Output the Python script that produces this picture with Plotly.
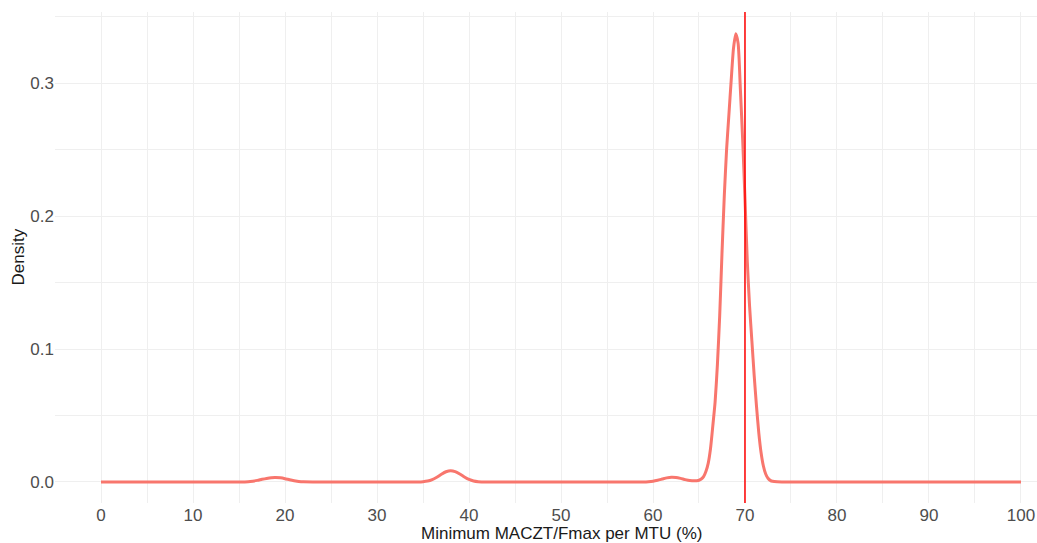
import plotly.graph_objects as go

# Density curve points
x_vals = [0, 10, 15, 16, 16.5, 17, 17.5, 18, 18.5, 19, 19.5, 20, 20.5, 21, 21.5, 22, 23,
          30, 34.5, 35, 35.5, 36, 36.5, 37, 37.5, 38, 38.5, 39, 39.5, 40, 40.5, 41, 42,
          50, 59, 59.5, 60, 60.5, 61, 61.5, 62, 62.5, 63, 63.5, 64, 64.5,
          64.75, 65, 65.25, 65.5, 65.75, 66, 66.25, 66.5, 66.75, 67, 67.25, 67.5, 67.75,
          68, 68.25, 68.5, 68.75, 69, 69.25, 69.5, 69.75, 70, 70.25, 70.5, 70.75,
          71, 71.25, 71.5, 71.75, 72, 72.25, 72.5, 72.75, 73, 73.5, 74, 80, 90, 100]
y_vals = [0, 0, 0, 0.0002, 0.0006, 0.0012, 0.0020, 0.0027, 0.0032, 0.0033, 0.0031, 0.0025, 0.0017, 0.0010, 0.0004, 0.0001, 0,
          0, 0, 0.0002, 0.0007, 0.0018, 0.0036, 0.0058, 0.0077, 0.0085, 0.0078, 0.0060, 0.0038, 0.0019, 0.0007, 0.0002, 0,
          0, 0, 0.0002, 0.0006, 0.0013, 0.0022, 0.0031, 0.0036, 0.0034, 0.0027, 0.0018, 0.0011, 0.0009,
          0.0010, 0.0013, 0.0022, 0.0040, 0.0078, 0.0140, 0.0250, 0.0420, 0.0600, 0.0880, 0.1250, 0.1720, 0.2150,
          0.2500, 0.2760, 0.3020, 0.3260, 0.3370, 0.3300, 0.2950, 0.2570, 0.2130, 0.1660, 0.1320, 0.1060,
          0.0800, 0.0570, 0.0370, 0.0220, 0.0120, 0.0060, 0.0028, 0.0012, 0.0005, 0.0001, 0, 0, 0, 0]

vline_x = [70]
x_ticks = [0, 10, 20, 30, 40, 50, 60, 70, 80, 90, 100]
y_ticks = [0.0, 0.1, 0.2, 0.3]
y_tick_labels = ["0.0", "0.1", "0.2", "0.3"]

fig = go.Figure()
fig.add_trace(go.Scatter(
    x=x_vals, y=y_vals, mode="lines",
    line=dict(color="#F8766D", width=3, shape="spline", smoothing=0.6),
    hoverinfo="skip", showlegend=False,
))
for vx in vline_x:
    fig.add_vline(x=vx, line=dict(color="#FF0000", width=1.5))

grid = "#EFEFEF"
font_family = "Liberation Sans, Arial, sans-serif"
fig.update_layout(
    width=1037, height=543,
    margin=dict(l=55, r=0, t=12, b=40),
    paper_bgcolor="white", plot_bgcolor="white",
    font=dict(family=font_family, size=17, color="#4D4D4D"),
    xaxis=dict(
        range=[-5, 101.74], tickmode="array", tickvals=x_ticks,
        showgrid=True, gridcolor=grid, gridwidth=1, zeroline=False,
        minor=dict(dtick=5, tick0=0, showgrid=True, gridcolor=grid, gridwidth=0.8),
        ticks="", showline=False, automargin=False,
        tickfont=dict(size=17, color="#4D4D4D"),
    ),
    yaxis=dict(
        range=[-0.0158, 0.3534], tickmode="array", tickvals=y_ticks, ticktext=y_tick_labels,
        showgrid=True, gridcolor=grid, gridwidth=1, zeroline=False,
        minor=dict(dtick=0.05, tick0=0, showgrid=True, gridcolor=grid, gridwidth=0.8),
        ticks="", showline=False, automargin=False,
        tickfont=dict(size=17, color="#4D4D4D"),
    ),
    annotations=[
        dict(text="Minimum MACZT/Fmax per MTU (%)", xref="x", yref="paper", x=50, y=0,
             xanchor="center", yanchor="middle", yshift=-30, showarrow=False,
             font=dict(family=font_family, size=17, color="#1A1A1A")),
        dict(text="Density", xref="paper", yref="paper", x=0, y=0.5, textangle=-90,
             xanchor="center", yanchor="middle", xshift=-37, showarrow=False,
             font=dict(family=font_family, size=17, color="#1A1A1A")),
    ],
)

fig.write_html("out.html", config={"displayModeBar": False},
               post_script="document.body.style.margin='0';")
